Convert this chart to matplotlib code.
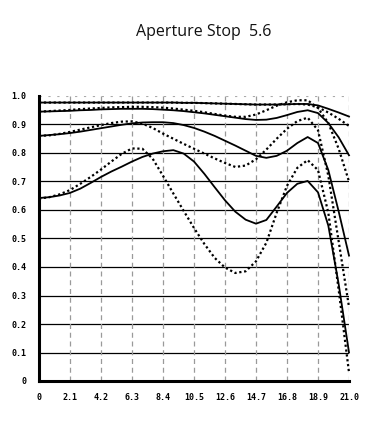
import matplotlib
matplotlib.use("Agg")
import matplotlib.pyplot as plt

# ---- data ----
x = [0, 0.7, 1.4, 2.1, 2.8, 3.5, 4.2, 4.9, 5.6, 6.3, 7.0, 7.7, 8.4, 9.1, 9.8, 10.5,
     11.2, 11.9, 12.6, 13.3, 14.0, 14.7, 15.4, 16.1, 16.8, 17.5, 18.2, 18.9, 19.6, 20.3, 21.0]

s1 = [0.977, 0.977, 0.977, 0.977, 0.977, 0.977, 0.977, 0.977, 0.977, 0.977, 0.977, 0.977,
      0.977, 0.977, 0.976, 0.976, 0.975, 0.974, 0.973, 0.972, 0.971, 0.970, 0.970, 0.970,
      0.971, 0.972, 0.972, 0.967, 0.955, 0.942, 0.928]
d1 = [0.977, 0.977, 0.977, 0.977, 0.977, 0.977, 0.977, 0.977, 0.977, 0.977, 0.977, 0.977,
      0.977, 0.977, 0.976, 0.976, 0.975, 0.974, 0.973, 0.972, 0.971, 0.970, 0.970, 0.970,
      0.971, 0.972, 0.970, 0.960, 0.942, 0.920, 0.895]
s2 = [0.945, 0.946, 0.947, 0.948, 0.950, 0.951, 0.953, 0.954, 0.955, 0.955, 0.955, 0.954,
      0.952, 0.950, 0.947, 0.943, 0.939, 0.934, 0.929, 0.924, 0.919, 0.916, 0.917, 0.923,
      0.933, 0.944, 0.950, 0.940, 0.905, 0.855, 0.792]
d2 = [0.945, 0.947, 0.949, 0.951, 0.954, 0.956, 0.958, 0.960, 0.961, 0.962, 0.962, 0.961,
      0.959, 0.956, 0.952, 0.948, 0.943, 0.937, 0.931, 0.927, 0.927, 0.935, 0.950, 0.966,
      0.978, 0.985, 0.985, 0.958, 0.905, 0.815, 0.700]
s3 = [0.860, 0.863, 0.866, 0.870, 0.875, 0.881, 0.887, 0.893, 0.899, 0.904, 0.907, 0.908,
      0.908, 0.905, 0.898, 0.888, 0.875, 0.860, 0.843, 0.826, 0.808, 0.790, 0.783, 0.790,
      0.808, 0.835, 0.856, 0.835, 0.740, 0.595, 0.440]
d3 = [0.860, 0.862, 0.867, 0.874, 0.882, 0.890, 0.898, 0.905, 0.910, 0.911, 0.903, 0.888,
      0.868, 0.850, 0.832, 0.815, 0.798, 0.781, 0.765, 0.751, 0.756, 0.778, 0.812, 0.850,
      0.885, 0.912, 0.924, 0.880, 0.720, 0.490, 0.260]
s4 = [0.642, 0.645, 0.651, 0.660, 0.675, 0.695, 0.716, 0.735, 0.752, 0.770, 0.786, 0.798,
      0.806, 0.810, 0.798, 0.770, 0.727, 0.680, 0.634, 0.594, 0.566, 0.552, 0.565, 0.612,
      0.660, 0.692, 0.702, 0.662, 0.545, 0.340, 0.100]
d4 = [0.640, 0.645, 0.655, 0.670, 0.692, 0.716, 0.742, 0.770, 0.797, 0.816, 0.815, 0.780,
      0.720, 0.658, 0.597, 0.537, 0.481, 0.432, 0.398, 0.379, 0.385, 0.420, 0.485, 0.590,
      0.685, 0.748, 0.775, 0.740, 0.590, 0.320, 0.030]

xticks = [0, 2.1, 4.2, 6.3, 8.4, 10.5, 12.6, 14.7, 16.8, 18.9, 21.0]
xtick_labels = ["0", "2.1", "4.2", "6.3", "8.4", "10.5", "12.6", "14.7", "16.8", "18.9", "21.0"]
yticks = [0, 0.1, 0.2, 0.3, 0.4, 0.5, 0.6, 0.7, 0.8, 0.9, 1.0]
ytick_labels = ["0", "0.1", "0.2", "0.3", "0.4", "0.5", "0.6", "0.7", "0.8", "0.9", "1.0"]

# ---- figure ----
fig = plt.figure(figsize=(3.76, 4.22), dpi=100)
fig.patch.set_facecolor("white")
ax = fig.add_axes([39/376, 41/422, 310/376, 285/422])

ax.set_xlim(0, 21.0)
ax.set_ylim(0, 1.0)

# grid
for yv in yticks[1:-1]:
    ax.axhline(yv, color="black", lw=0.9, zorder=1)
ax.axhline(1.0, color="#aaaaaa", lw=0.8, ls=(0, (2, 6)), zorder=1)
for xv in xticks[1:]:
    ax.axvline(xv, color="#9a9a9a", lw=0.9, ls=(0, (4, 3)), zorder=1)

solid_kw = dict(color="black", lw=1.3, solid_joinstyle="round", clip_on=False, zorder=3)
dot_kw = dict(color="black", lw=1.6, ls=(0, (1, 1.2)), clip_on=False, zorder=3)
for s in (s1, s2, s3, s4):
    ax.plot(x, s, **solid_kw)
for d in (d1, d2, d3, d4):
    ax.plot(x, d, **dot_kw)

for side in ("top", "right"):
    ax.spines[side].set_visible(False)
ax.spines["left"].set_linewidth(2.2)
ax.spines["bottom"].set_linewidth(2.2)

ax.set_xticks(xticks)
ax.set_xticklabels(xtick_labels)
ax.set_yticks(yticks)
ax.set_yticklabels(ytick_labels)
ax.tick_params(length=0, pad=9, labelsize=6)
for lab in ax.get_xticklabels() + ax.get_yticklabels():
    lab.set_family("DejaVu Sans Mono")
    lab.set_fontweight("bold")

fig.text(204/376, 1 - 32/422, "Aperture Stop  5.6", ha="center", va="center",
         fontsize=11.5, family="Open Sans", color="#111111")

fig.savefig("out.png", dpi=100, facecolor="white")
